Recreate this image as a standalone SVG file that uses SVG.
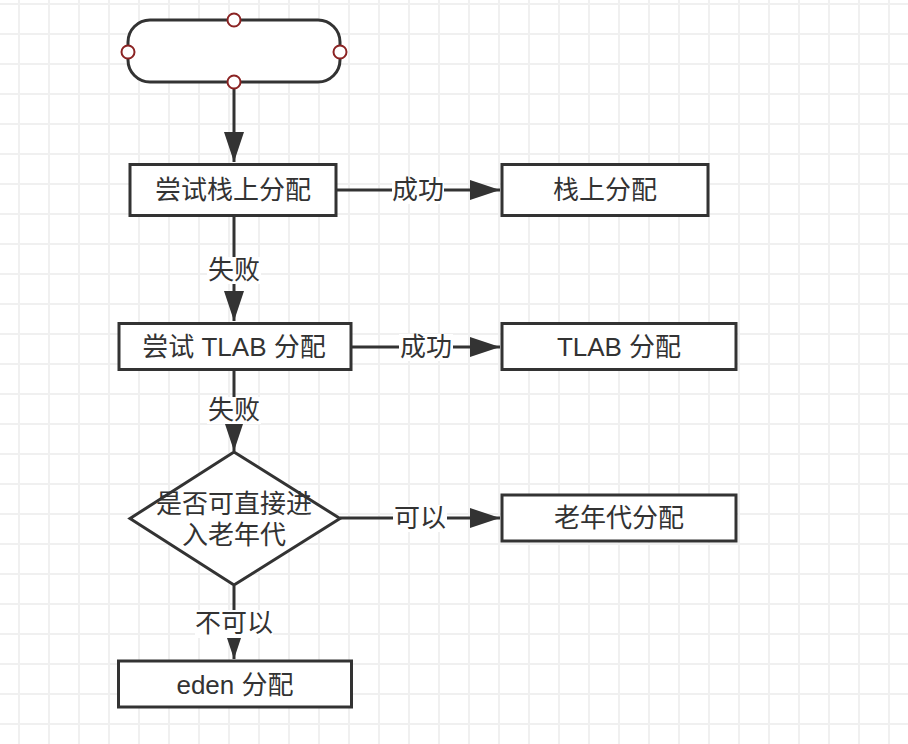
<svg xmlns="http://www.w3.org/2000/svg" width="908" height="744" viewBox="0 0 908 744">
<style>
.node{fill:#fff;stroke:#333;stroke-width:3}
.t{font-family:"Liberation Sans","Noto Sans CJK SC",sans-serif;font-size:26px;fill:#333;text-anchor:middle;dominant-baseline:central}
.edge{stroke:#333;stroke-width:3;fill:none}
.lbg{fill:#fff}
.pt{fill:#fff;stroke:#8b2323;stroke-width:2}
</style>
<defs>
<pattern id="grid" patternUnits="userSpaceOnUse" x="0" y="0" width="30" height="30">
<rect x="18" y="0" width="2" height="30" fill="#f0f0f0"/>
<rect x="0" y="3" width="30" height="2" fill="#f0f0f0"/>
</pattern>
<marker id="arr" viewBox="0 0 30 20" refX="30" refY="10" markerWidth="30" markerHeight="20" markerUnits="userSpaceOnUse" orient="auto">
<path d="M0,0 L30,10 L0,20 Z" fill="#333"/>
</marker>
</defs>
<rect width="908" height="744" fill="#fff"/>
<rect width="908" height="744" fill="url(#grid)"/>

<g id="connectors">
<line class="edge" x1="234" y1="82" x2="234" y2="162" marker-end="url(#arr)"/>
<line class="edge" x1="337" y1="190" x2="500" y2="190" marker-end="url(#arr)"/>
<line class="edge" x1="234" y1="217" x2="234" y2="321" marker-end="url(#arr)"/>
<line class="edge" x1="351" y1="347" x2="500" y2="347" marker-end="url(#arr)"/>
<line class="edge" x1="234" y1="370" x2="234" y2="451" marker-end="url(#arr)"/>
<line class="edge" x1="340" y1="518" x2="500" y2="518" marker-end="url(#arr)"/>
<line class="edge" x1="234" y1="586" x2="234" y2="659" marker-end="url(#arr)"/>
<g id="labels">
<rect class="lbg" x="392" y="177" width="52" height="27"/>
<text class="t" x="418" y="190">成功</text>
<rect class="lbg" x="399" y="334" width="54" height="27"/>
<text class="t" x="426" y="347">成功</text>
<rect class="lbg" x="207" y="257" width="54" height="27"/>
<text class="t" x="234" y="270">失败</text>
<rect class="lbg" x="207" y="397" width="54" height="27"/>
<text class="t" x="234" y="410">失败</text>
<rect class="lbg" x="393" y="505" width="54" height="27"/>
<text class="t" x="420" y="518">可以</text>
<rect class="lbg" x="195" y="610" width="78" height="28"/>
<text class="t" x="234" y="623">不可以</text>
</g>
</g>

<g id="start">
<rect class="node" x="128" y="20" width="212" height="62" rx="22" ry="22"/>
<circle class="pt" cx="234" cy="20" r="6.5"/>
<circle class="pt" cx="128" cy="52" r="6.5"/>
<circle class="pt" cx="340" cy="52" r="6.5"/>
<circle class="pt" cx="234" cy="82" r="6.5"/>
</g>
<g id="n1">
<rect class="node" x="130" y="164.5" width="206" height="51"/>
<text class="t" x="233" y="190">尝试栈上分配</text>
</g>
<g id="n2">
<rect class="node" x="502" y="164.5" width="206" height="51"/>
<text class="t" x="605" y="190">栈上分配</text>
</g>
<g id="n3">
<rect class="node" x="119" y="323.5" width="232" height="46"/>
<text class="t" x="234" y="347">尝试 TLAB 分配</text>
</g>
<g id="n4">
<rect class="node" x="502" y="323.5" width="234" height="46"/>
<text class="t" x="619" y="347">TLAB 分配</text>
</g>
<g id="d1">
<polygon class="node" points="234,452 340,518.5 234,585 130,518.5"/>
<text class="t" x="234" y="504">是否可直接进</text>
<text class="t" x="234" y="535">入老年代</text>
</g>
<g id="n5">
<rect class="node" x="502" y="495" width="234" height="46"/>
<text class="t" x="619" y="518">老年代分配</text>
</g>
<g id="n6">
<rect class="node" x="118.5" y="661" width="233" height="46"/>
<text class="t" x="235" y="685">eden 分配</text>
</g>
</svg>
